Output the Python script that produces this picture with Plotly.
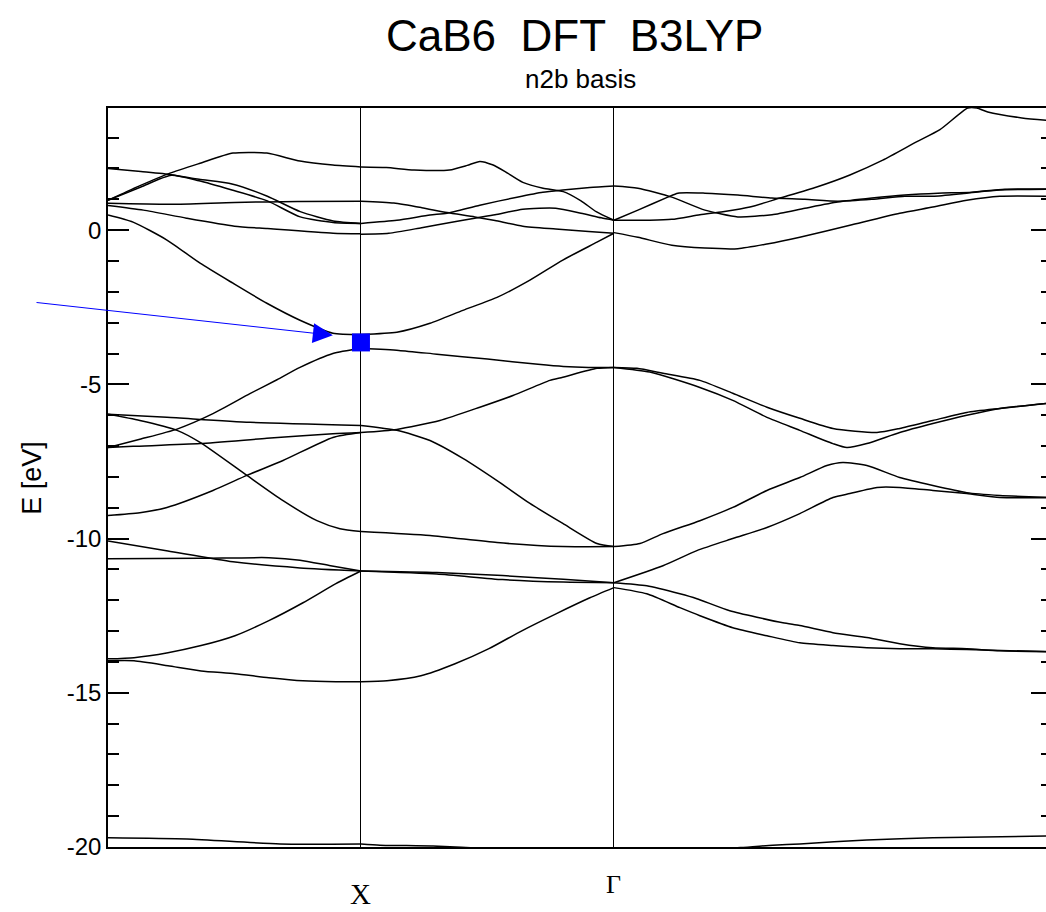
import plotly.graph_objects as go

# ---------------- text ----------------
title_text = "CaB6  DFT  B3LYP"
subtitle_text = "n2b basis"
y_title = "E [eV]"
kpoint_labels = ["X", "Γ"]
kpoint_pos = [1.0, 2.0]
k_range = [0.0, 3.732]
e_range = [-20.0, 3.961]
y_tick_vals = [-20, -15, -10, -5, 0]
y_tick_text = ["-20", "-15", "-10", "-5", "0"]

# ---------------- segment M -> X ----------------
k_mx_1 = [0, 0.12, 0.245, 0.364, 0.494, 0.628, 0.759, 0.889, 1.0]
e_mx_1 = [0.97, 1.42, 1.85, 2.17, 2.5, 2.5, 2.24, 2.11, 2.05]
k_mx_2 = [0, 0.13, 0.25, 0.36, 0.49, 0.63, 0.76, 0.89, 1.0]
e_mx_2 = [2.0, 1.9, 1.8, 1.65, 1.5, 1.1, 0.6, 0.3, 0.22]
k_mx_3 = [0, 0.13, 0.25, 0.36, 0.49, 0.63, 0.76, 0.89, 1.0]
e_mx_3 = [0.97, 1.4, 1.78, 1.6, 1.3, 0.95, 0.43, 0.25, 0.22]
k_mx_4 = [0, 0.25, 0.5, 0.75, 1.0]
e_mx_4 = [0.87, 0.84, 0.9, 0.93, 0.94]
k_mx_5 = [0, 0.14, 0.31, 0.5, 0.63, 0.89, 1.0]
e_mx_5 = [0.8, 0.65, 0.39, 0.13, 0.05, -0.1, -0.12]
k_mx_6 = [0, 0.099, 0.233, 0.364, 0.494, 0.628, 0.759, 0.889, 1.0]
e_mx_6 = [0.49, 0.26, -0.32, -1.07, -1.72, -2.37, -2.92, -3.34, -3.38]
k_mx_7 = [0, 0.126, 0.273, 0.415, 0.561, 0.668, 0.759, 0.889, 1.0]
e_mx_7 = [-7.05, -6.78, -6.45, -5.95, -5.3, -4.85, -4.45, -4.0, -3.83]
k_mx_8 = [0, 0.233, 0.561, 1.0]
e_mx_8 = [-5.97, -6.07, -6.23, -6.33]
k_mx_9 = [0, 0.126, 0.273, 0.364, 0.549, 0.692, 0.826, 0.917, 1.0]
e_mx_9 = [-5.97, -6.17, -6.49, -6.88, -7.95, -8.77, -9.42, -9.68, -9.77]
k_mx_10 = [0, 0.099, 0.364, 0.628, 0.889, 1.0]
e_mx_10 = [-7.05, -7.01, -6.92, -6.75, -6.6, -6.56]
k_mx_11 = [0, 0.126, 0.233, 0.415, 0.549, 0.692, 0.889, 1.0]
e_mx_11 = [-9.25, -9.16, -8.99, -8.44, -7.95, -7.47, -6.72, -6.56]
k_mx_12 = [0, 0.237, 0.494, 0.759, 1.0]
e_mx_12 = [-10.08, -10.4, -10.75, -10.95, -11.05]
k_mx_13 = [0, 0.368, 0.636, 0.759, 0.88, 1.0]
e_mx_13 = [-10.65, -10.64, -10.62, -10.7, -10.88, -11.05]
k_mx_14 = [0, 0.103, 0.237, 0.368, 0.502, 0.636, 0.771, 0.901, 1.0]
e_mx_14 = [-13.9, -13.86, -13.7, -13.47, -13.15, -12.66, -12.08, -11.46, -11.05]
k_mx_15 = [0, 0.103, 0.237, 0.368, 0.502, 0.636, 0.771, 0.901, 1.0]
e_mx_15 = [-13.96, -13.96, -14.12, -14.29, -14.38, -14.51, -14.61, -14.64, -14.64]
k_mx_16 = [0, 0.312, 0.68, 1.0]
e_mx_16 = [-19.7, -19.74, -19.9, -19.9]

# ---------------- segment X -> Gamma ----------------
k_xg_1 = [1.0, 1.1, 1.21, 1.35, 1.42, 1.47, 1.52, 1.57, 1.64, 1.72, 1.8, 1.87, 1.93, 2.0]
e_xg_1 = [2.05, 2.03, 1.95, 1.95, 2.1, 2.23, 2.12, 1.9, 1.55, 1.36, 1.25, 0.95, 0.6, 0.32]
k_xg_2 = [1.0, 1.13, 1.24, 1.34, 1.45, 1.53, 1.64, 1.77, 1.9, 2.0]
e_xg_2 = [0.94, 0.88, 0.73, 0.57, 0.43, 0.31, 0.13, 0.04, -0.04, -0.1]
k_xg_3 = [1.0, 1.142, 1.273, 1.34, 1.47, 1.617, 1.719, 1.798, 1.905, 2.0]
e_xg_3 = [0.22, 0.32, 0.49, 0.55, 0.81, 1.07, 1.23, 1.3, 1.38, 1.43]
k_xg_4 = [1.0, 1.11, 1.24, 1.37, 1.45, 1.53, 1.64, 1.77, 1.87, 1.95, 2.0]
e_xg_4 = [-0.13, -0.1, 0.08, 0.27, 0.39, 0.5, 0.68, 0.71, 0.55, 0.4, 0.32]
k_xg_5 = [1.0, 1.142, 1.273, 1.403, 1.538, 1.668, 1.798, 1.933, 2.0]
e_xg_5 = [-3.38, -3.31, -3.02, -2.6, -2.18, -1.62, -0.97, -0.39, -0.1]
k_xg_6 = [1.0, 1.15, 1.3, 1.5, 1.7, 1.8, 1.9, 2.0]
e_xg_6 = [-3.83, -3.9, -4.02, -4.18, -4.35, -4.42, -4.45, -4.45]
k_xg_7 = [1.0, 1.142, 1.312, 1.47, 1.601, 1.747, 1.798, 1.933, 2.0]
e_xg_7 = [-6.56, -6.46, -6.17, -5.74, -5.36, -4.87, -4.77, -4.48, -4.45]
k_xg_8 = [1.0, 1.142, 1.273, 1.403, 1.538, 1.668, 1.798, 1.933, 2.0]
e_xg_8 = [-6.33, -6.49, -6.82, -7.4, -8.12, -8.86, -9.51, -10.16, -10.26]
k_xg_9 = [1.0, 1.273, 1.538, 1.798, 2.0]
e_xg_9 = [-9.77, -9.9, -10.13, -10.26, -10.26]
k_xg_10 = [1.0, 1.3, 1.56, 1.8, 2.0]
e_xg_10 = [-11.05, -11.1, -11.2, -11.32, -11.43]
k_xg_11 = [1.0, 1.3, 1.56, 1.8, 2.0]
e_xg_11 = [-11.05, -11.15, -11.33, -11.41, -11.43]
k_xg_12 = [1.0, 1.103, 1.237, 1.372, 1.506, 1.636, 1.771, 1.905, 2.0]
e_xg_12 = [-14.64, -14.61, -14.45, -14.06, -13.57, -12.99, -12.44, -11.92, -11.59]
k_xg_13 = [1.0, 1.075, 1.285, 1.5, 2.0]
e_xg_13 = [-19.9, -19.94, -19.97, -20.05, -20.2]

# ---------------- segment Gamma -> R ----------------
k_gr_1 = [2.0, 2.095, 2.229, 2.36, 2.49, 2.625, 2.755, 2.885, 3.02, 3.15, 3.281, 3.415, 3.545, 3.732]
e_gr_1 = [1.43, 1.36, 1.07, 0.65, 0.43, 0.5, 0.71, 0.91, 1.04, 1.14, 1.2, 1.23, 1.33, 1.33]
k_gr_2 = [2.0, 2.095, 2.213, 2.253, 2.36, 2.49, 2.625, 2.755, 2.885, 3.02, 3.15, 3.261, 3.395, 3.526, 3.732]
e_gr_2 = [0.32, 0.65, 1.07, 1.2, 1.2, 1.14, 1.04, 1.0, 0.94, 1.0, 1.1, 1.1, 1.2, 1.3, 1.33]
k_gr_3 = [2.0, 2.142, 2.229, 2.34, 2.431, 2.538, 2.656, 2.802, 2.933, 3.063, 3.198, 3.289, 3.399, 3.435, 3.478, 3.613, 3.732]
e_gr_3 = [0.32, 0.32, 0.35, 0.5, 0.6, 0.75, 1.04, 1.4, 1.79, 2.27, 2.87, 3.26, 3.96, 3.96, 3.83, 3.64, 3.55]
k_gr_4 = [2.0, 2.095, 2.229, 2.36, 2.49, 2.605, 2.735, 2.933, 3.13, 3.261, 3.395, 3.526, 3.732]
e_gr_4 = [-0.08, -0.23, -0.49, -0.58, -0.6, -0.45, -0.23, 0.16, 0.55, 0.75, 0.97, 1.1, 1.1]
k_gr_5 = [2.0, 2.091, 2.194, 2.34, 2.47, 2.605, 2.735, 2.866, 3.04, 3.13, 3.261, 3.395, 3.526, 3.732]
e_gr_5 = [-4.45, -4.48, -4.64, -4.87, -5.29, -5.74, -6.1, -6.43, -6.56, -6.43, -6.17, -5.91, -5.78, -5.6]
k_gr_6 = [2.0, 2.142, 2.34, 2.47, 2.605, 2.735, 2.866, 2.921, 3.0, 3.13, 3.261, 3.395, 3.526, 3.732]
e_gr_6 = [-4.45, -4.6, -5.1, -5.52, -6.07, -6.49, -6.92, -7.05, -6.92, -6.56, -6.27, -6.0, -5.78, -5.6]
k_gr_7 = [2.0, 2.103, 2.194, 2.34, 2.47, 2.605, 2.735, 2.842, 2.905, 3.0, 3.13, 3.261, 3.395, 3.526, 3.732]
e_gr_7 = [-10.26, -10.16, -9.84, -9.42, -8.99, -8.44, -8.02, -7.63, -7.53, -7.63, -8.02, -8.28, -8.51, -8.6, -8.67]
k_gr_8 = [2.0, 2.194, 2.328, 2.47, 2.605, 2.735, 2.866, 2.933, 3.04, 3.13, 3.261, 3.395, 3.526, 3.732]
e_gr_8 = [-11.43, -10.88, -10.39, -10.0, -9.64, -9.19, -8.67, -8.54, -8.34, -8.34, -8.44, -8.54, -8.67, -8.67]
k_gr_9 = [2.0, 2.13, 2.261, 2.328, 2.458, 2.668, 2.735, 2.866, 3.0, 3.13, 3.261, 3.395, 3.526, 3.732]
e_gr_9 = [-11.43, -11.53, -11.79, -11.95, -12.34, -12.73, -12.82, -13.05, -13.21, -13.41, -13.54, -13.57, -13.64, -13.67]
k_gr_10 = [2.0, 2.13, 2.261, 2.34, 2.47, 2.605, 2.735, 2.866, 3.0, 3.13, 3.261, 3.395, 3.732]
e_gr_10 = [-11.59, -11.79, -12.24, -12.5, -12.89, -13.15, -13.38, -13.47, -13.54, -13.57, -13.57, -13.6, -13.67]
k_gr_11 = [2.0, 2.5, 2.628, 2.735, 3.0, 3.261, 3.732]
e_gr_11 = [-20.2, -20.02, -19.94, -19.9, -19.77, -19.7, -19.64]

# highlighted state and arrow (k, E)
mark_k = [1.0]
mark_e = [-3.64]
arrow_tail = (-0.2885, -2.34)
arrow_head = (0.889, -3.41)

bands = [
    (k_mx_1, e_mx_1), (k_mx_2, e_mx_2), (k_mx_3, e_mx_3), (k_mx_4, e_mx_4),
    (k_mx_5, e_mx_5), (k_mx_6, e_mx_6), (k_mx_7, e_mx_7), (k_mx_8, e_mx_8),
    (k_mx_9, e_mx_9), (k_mx_10, e_mx_10), (k_mx_11, e_mx_11), (k_mx_12, e_mx_12),
    (k_mx_13, e_mx_13), (k_mx_14, e_mx_14), (k_mx_15, e_mx_15), (k_mx_16, e_mx_16),
    (k_xg_1, e_xg_1), (k_xg_2, e_xg_2), (k_xg_3, e_xg_3), (k_xg_4, e_xg_4),
    (k_xg_5, e_xg_5), (k_xg_6, e_xg_6), (k_xg_7, e_xg_7), (k_xg_8, e_xg_8),
    (k_xg_9, e_xg_9), (k_xg_10, e_xg_10), (k_xg_11, e_xg_11), (k_xg_12, e_xg_12),
    (k_xg_13, e_xg_13),
    (k_gr_1, e_gr_1), (k_gr_2, e_gr_2), (k_gr_3, e_gr_3), (k_gr_4, e_gr_4),
    (k_gr_5, e_gr_5), (k_gr_6, e_gr_6), (k_gr_7, e_gr_7), (k_gr_8, e_gr_8),
    (k_gr_9, e_gr_9), (k_gr_10, e_gr_10), (k_gr_11, e_gr_11),
]

fig = go.Figure()
for kk, ee in bands:
    fig.add_trace(go.Scatter(
        x=kk, y=ee, mode="lines",
        line=dict(color="black", width=1.5, shape="spline", smoothing=0.6),
        hoverinfo="skip", showlegend=False,
    ))

fig.add_trace(go.Scatter(
    x=mark_k, y=mark_e, mode="markers",
    marker=dict(symbol="square", size=18, color="#0000ff", line=dict(width=0)),
    showlegend=False, hoverinfo="skip",
))

SANS = "Liberation Sans, Arial, Helvetica, sans-serif"
SERIF = "Liberation Serif, Times New Roman, serif"

fig.update_layout(
    width=1062, height=912,
    margin=dict(l=108, r=8, t=108, b=65),
    paper_bgcolor="white", plot_bgcolor="white",
    showlegend=False,
    font=dict(family=SANS, color="black"),
    xaxis=dict(
        range=k_range, showline=True, mirror=True, linecolor="black", linewidth=1.5,
        tickvals=kpoint_pos, showticklabels=False, ticks="",
        showgrid=True, gridcolor="black", gridwidth=1.3, zeroline=False,
    ),
    yaxis=dict(
        range=e_range, showline=True, mirror="ticks", linecolor="black", linewidth=1.5,
        tickvals=y_tick_vals, ticktext=y_tick_text,
        ticks="inside", ticklen=21, tickwidth=1.5, tickcolor="black",
        minor=dict(dtick=1, tick0=0, ticks="inside", ticklen=11, tickwidth=1.5, tickcolor="black"),
        tickfont=dict(family=SANS, size=24, color="black"),
        showgrid=False, zeroline=False,
    ),
)

fig.add_annotation(text=title_text, xref="paper", yref="paper", x=0.4947, y=1 + (108 - 35) / 739,
                   showarrow=False, xanchor="center", yanchor="middle",
                   font=dict(family=SANS, size=44, color="black"))
fig.add_annotation(text=subtitle_text, xref="paper", yref="paper", x=0.5, y=1 + (108 - 79) / 739,
                   showarrow=False, xanchor="center", yanchor="middle",
                   font=dict(family=SANS, size=26, color="black"))
fig.add_annotation(text=y_title, xref="paper", yref="paper", x=(31 - 108) / 946, y=0.5,
                   textangle=-90, showarrow=False, xanchor="center", yanchor="middle",
                   font=dict(family=SANS, size=27, color="black"))
fig.add_annotation(text=kpoint_labels[0], xref="x", yref="paper", x=kpoint_pos[0], y=(847 - 894) / 739,
                   showarrow=False, xanchor="center", yanchor="middle",
                   font=dict(family=SERIF, size=29, color="black"))
fig.add_annotation(text=kpoint_labels[1], xref="x", yref="paper", x=kpoint_pos[1], y=(847 - 885) / 739,
                   showarrow=False, xanchor="center", yanchor="middle",
                   font=dict(family=SERIF, size=26, color="black"))
fig.add_annotation(text="", x=arrow_head[0], y=arrow_head[1], xref="x", yref="y",
                   ax=arrow_tail[0], ay=arrow_tail[1], axref="x", ayref="y",
                   showarrow=True, arrowhead=2, arrowsize=4, arrowwidth=1,
                   arrowcolor="#0000ff", standoff=0)

fig.write_html(
    "out.html",
    config={"displayModeBar": False},
    post_script="document.body.style.margin='0';document.body.style.overflow='hidden';document.documentElement.style.overflow='hidden';",
)
